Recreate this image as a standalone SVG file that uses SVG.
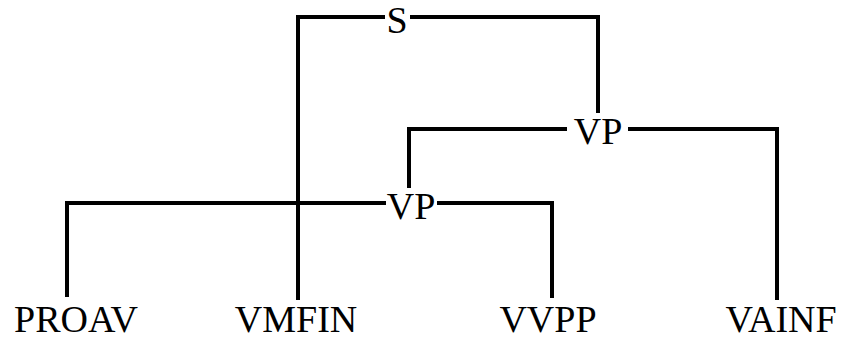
<svg xmlns="http://www.w3.org/2000/svg" width="845" height="341" viewBox="0 0 845 341">
<style>
.e{fill:none;stroke:#000;stroke-width:4;stroke-linejoin:miter;stroke-linecap:butt}
.t{font-family:'Liberation Serif', 'Times New Roman', Times, serif;font-size:38px;fill:#000;text-anchor:middle}
</style>
<rect width="845" height="341" fill="#fff"/>
<g id="connectors">
<path class="e" d="M385,17 H298 V300"/>
<path class="e" d="M410,17 H598 V113"/>
<path class="e" d="M567,129 H409 V188"/>
<path class="e" d="M628,129 H777 V300"/>
<path class="e" d="M386,203 H67 V297"/>
<path class="e" d="M437,203 H552 V298"/>
</g>
<g id="S"><text class="t" x="397" y="33">S</text></g>
<g id="VP1"><text class="t" x="598" y="144">VP</text></g>
<g id="VP2"><text class="t" x="411" y="219">VP</text></g>
<g id="PROAV"><text class="t" x="76" y="332">PROAV</text></g>
<g id="VMFIN"><text class="t" x="296" y="332">VMFIN</text></g>
<g id="VVPP"><text class="t" x="548" y="332">VVPP</text></g>
<g id="VAINF"><text class="t" x="781" y="332">VAINF</text></g>
</svg>
